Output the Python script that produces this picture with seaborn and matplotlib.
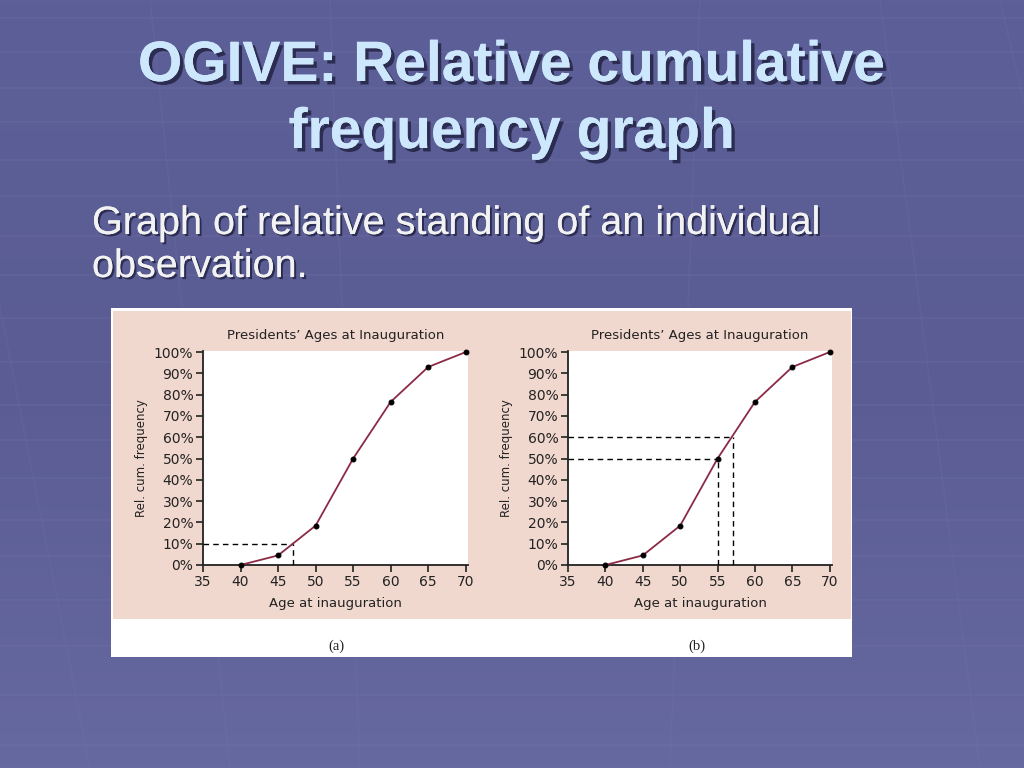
import numpy as np
import pandas as pd
import matplotlib
matplotlib.use("Agg")
import matplotlib.pyplot as plt
import matplotlib.patheffects as pe
from matplotlib.patches import Rectangle
import seaborn as sns

# ---- data ----
ages = [40, 45, 50, 55, 60, 65, 70]
rel_cum_freq = [0, 4.5, 18.5, 50, 76.6, 93, 100]
y_ticks = [0, 10, 20, 30, 40, 50, 60, 70, 80, 90, 100]
x_ticks = [35, 40, 45, 50, 55, 60, 65, 70]
chart_title = "Presidents\u2019 Ages at Inauguration"
x_label = "Age at inauguration"
y_label = "Rel. cum. frequency"
# reading guides: (age, percentile)
guides_a = [(47, 10)]
guides_b = [(55, 50), (57, 60)]

df = pd.DataFrame({"age": ages, "freq": rel_cum_freq})

sns.set_style("ticks")
plt.rcParams["font.family"] = ["DejaVu Sans"]

W, H = 1024, 768
fig = plt.figure(figsize=(W / 100, H / 100), dpi=100)

# ---- slide background ----
bg = fig.add_axes([0, 0, 1, 1])
bg.set_xlim(0, W)
bg.set_ylim(H, 0)
bg.axis("off")
grad = np.linspace(0, 1, 256).reshape(-1, 1)
cmap = matplotlib.colors.LinearSegmentedColormap.from_list("bg", ["#5d6098", "#5a5c93", "#66699f"])
bg.imshow(grad, extent=[0, W, H, 0], cmap=cmap, aspect="auto", zorder=0)
for yy in [18, 52, 88, 122, 160, 196, 236, 275, 318, 362, 405, 440, 478, 520, 556, 600, 646, 695, 745]:
    bg.plot([0, W], [yy, yy], color="#7579ad", lw=1.2, alpha=0.25, zorder=1)
for x0, x1 in [(-60, 90), (150, 230), (330, 360), (700, 670), (880, 980), (1000, 1180)]:
    bg.plot([x0, x1], [0, H], color="#7579ad", lw=1.2, alpha=0.18, zorder=1)

# white panel & pink region
bg.add_patch(Rectangle((111, 308), 741, 349, facecolor="white", edgecolor="none", zorder=2))
bg.add_patch(Rectangle((113, 311), 738, 308, facecolor="#f1d8cf", edgecolor="none", zorder=3))

shadow = [pe.withSimplePatchShadow(offset=(2.5, -2.5), shadow_rgbFace="#202040", alpha=0.8), pe.Normal()]
tfam = ["Liberation Sans", "DejaVu Sans"]
bg.text(512, 66, "OGIVE: Relative cumulative", ha="center", va="center", fontsize=41,
        fontweight="bold", color="#cde7fc", family=tfam, path_effects=shadow, zorder=5)
bg.text(512, 133, "frequency graph", ha="center", va="center", fontsize=41,
        fontweight="bold", color="#cde7fc", family=tfam, path_effects=shadow, zorder=5)
shadow2 = [pe.withSimplePatchShadow(offset=(1.5, -1.5), shadow_rgbFace="#202040", alpha=0.8), pe.Normal()]
bg.text(92, 223, "Graph of relative standing of an individual", ha="left", va="center",
        fontsize=28.5, color="#f2f2f2", family=tfam, path_effects=shadow2, zorder=5)
bg.text(92, 266, "observation.", ha="left", va="center",
        fontsize=28.5, color="#f2f2f2", family=tfam, path_effects=shadow2, zorder=5)

sfam = ["Liberation Serif", "DejaVu Serif"]
bg.text(336, 646, "(a)", ha="center", va="center", fontsize=10.5, family=sfam, color="#222222", zorder=5)
bg.text(697, 646, "(b)", ha="center", va="center", fontsize=10.5, family=sfam, color="#222222", zorder=5)


def make_panel(left_px, right_px, guides):
    ax = fig.add_axes([left_px / W, 1 - 565 / H, (right_px - left_px) / W, (565 - 351) / H])
    ax.set_facecolor("white")
    sns.lineplot(data=df, x="age", y="freq", ax=ax, color="#8c2a45", lw=1.3,
                 marker="o", markersize=3.5, markerfacecolor="black", markeredgecolor="black",
                 zorder=4, clip_on=False)
    for gx, gy in guides:
        ax.plot([35, gx], [gy, gy], color="black", lw=1.0, ls=(0, (4, 3)), zorder=3)
        ax.plot([gx, gx], [0, gy], color="black", lw=1.0, ls=(0, (4, 3)), zorder=3)
    ax.set_xlim(35, 70.3)
    ax.set_ylim(0, 100.5)
    ax.set_xticks(x_ticks)
    ax.set_yticks(y_ticks)
    ax.set_yticklabels([f"{v}%" for v in y_ticks])
    ax.tick_params(axis="both", direction="out", length=5, width=1.2, color="#222222",
                   labelsize=10, labelcolor="#222222", pad=2)
    for s in ["top", "right"]:
        ax.spines[s].set_visible(False)
    for s in ["left", "bottom"]:
        ax.spines[s].set_color("#222222")
        ax.spines[s].set_linewidth(1.3)
    ax.set_xlabel(x_label, fontsize=9.5, color="#222222", labelpad=6)
    ax.set_ylabel(y_label, fontsize=8.5, color="#222222", labelpad=4)
    ax.set_title(chart_title, fontsize=9.5, color="#222222", pad=9)
    return ax


make_panel(203, 468, guides_a)
make_panel(568, 832, guides_b)

fig.savefig("out.png", dpi=100)
